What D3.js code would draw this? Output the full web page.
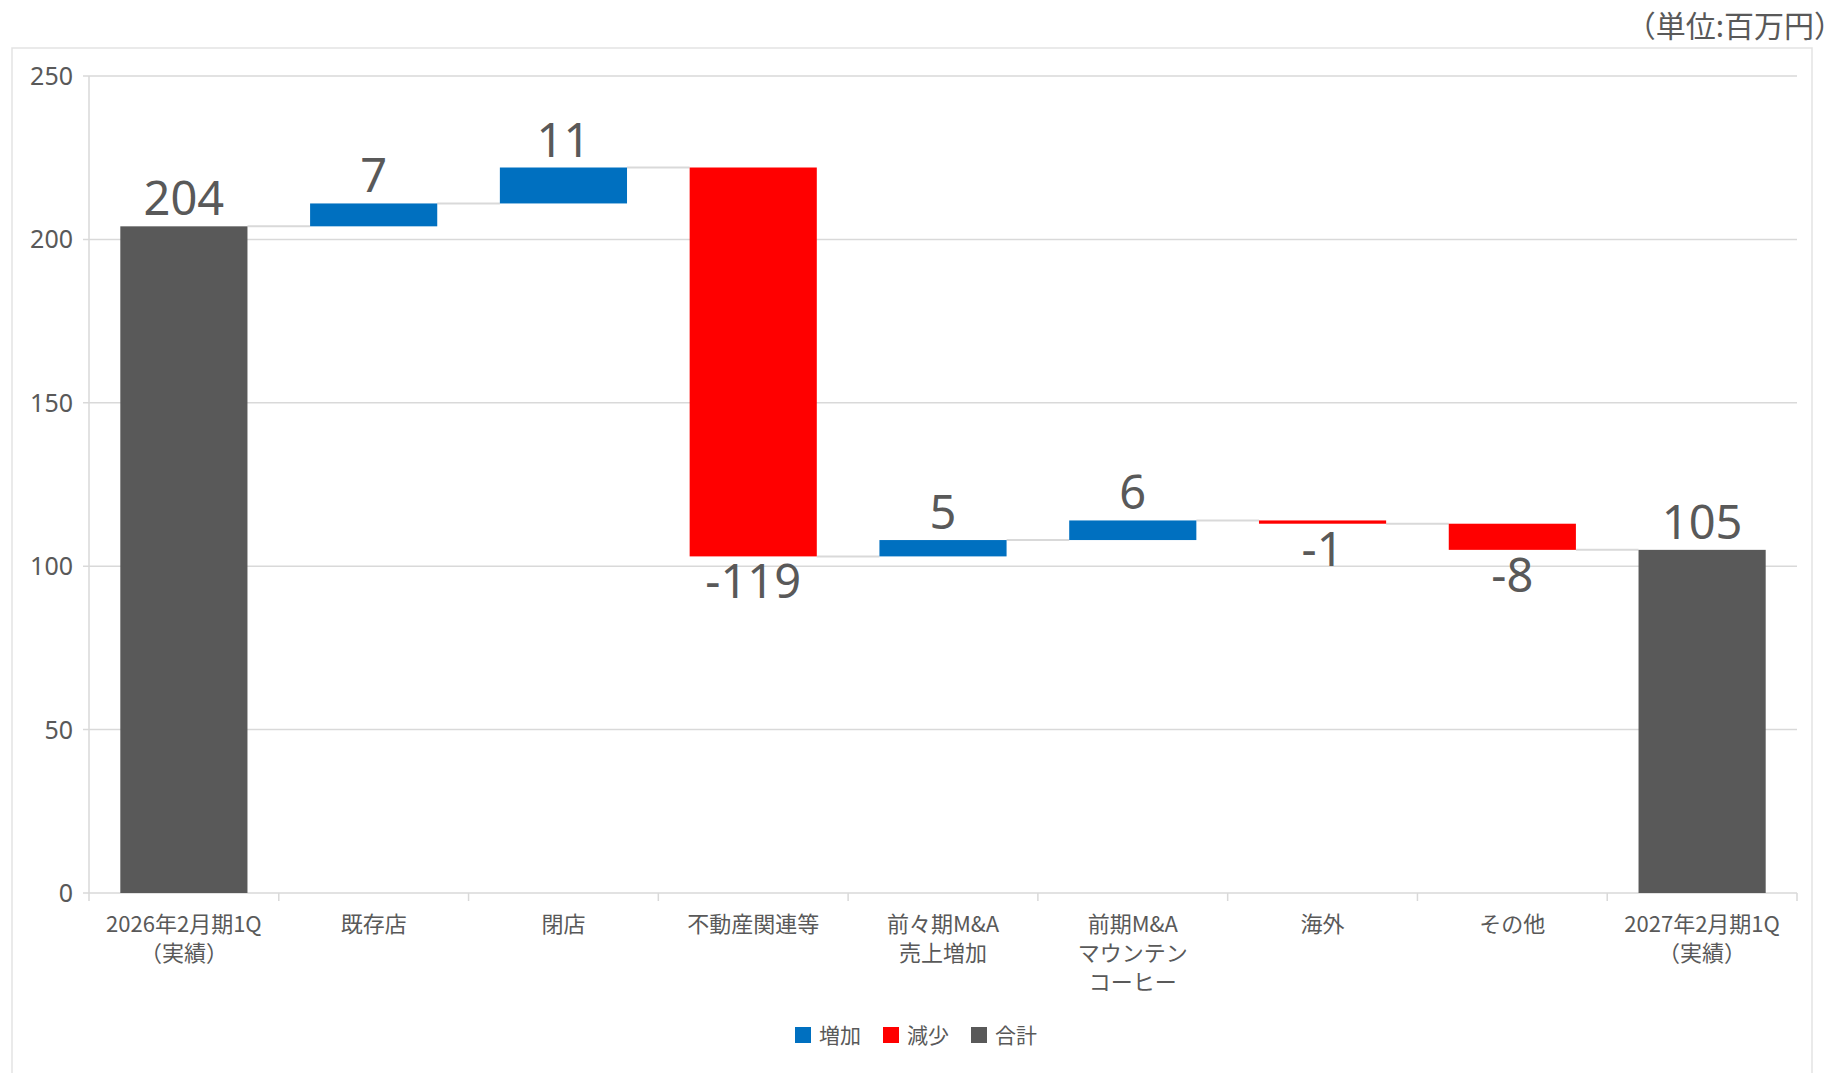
<!DOCTYPE html>
<html>
<head>
<meta charset="utf-8">
<script src="https://cdn.jsdelivr.net/npm/d3@7"></script>
<style>
	body { margin: 0; background: #fff; }
	svg text { font-family: "Noto Sans CJK JP", "Noto Sans", sans-serif; fill: #595959; }
	svg .num { font-family: "Noto Sans", "Open Sans", sans-serif; }
</style>
</head>
<body>
<svg id="chart" width="1845" height="1073"></svg>
<script>
// chart data
var categories = [
	["2026年2月期1Q", "（実績）"],
	["既存店"],
	["閉店"],
	["不動産関連等"],
	["前々期M&A", "売上増加"],
	["前期M&A", "マウンテン", "コーヒー"],
	["海外"],
	["その他"],
	["2027年2月期1Q", "（実績）"]
];
var values = [204, 7, 11, -119, 5, 6, -1, -8, 105];
var kinds = ["total", "delta", "delta", "delta", "delta", "delta", "delta", "delta", "total"];
var yTicks = [0, 50, 100, 150, 200, 250];
var legendLabels = ["増加", "減少", "合計"];
var unitLabel = "（単位:百万円）";

window.onload = _ => {
	var colors = { up: "#0070C0", down: "#FF0000", total: "#595959" },
		grid = "#d9d9d9",
		left = 89, right = 1797, top = 76, bottom = 893;

	var svg = d3.select("#chart");

	// running totals -> bar start / end
	var running = 0;
	var bars = values.map((v, i) => {
		var d = { i: i, value: v, kind: kinds[i] };
		if (kinds[i] == "total") {
			d.start = 0; d.end = v; running = v;
			d.color = colors.total;
		} else {
			d.start = running; d.end = running + v; running = d.end;
			d.color = v >= 0 ? colors.up : colors.down;
		}
		return d;
	});

	var x = d3.scaleBand()
		.domain(d3.range(categories.length))
		.range([left, right])
		.paddingInner(0.33)
		.paddingOuter(0.165);
	var step = x.step();

	var y = d3.scaleLinear().domain([0, 250]).range([bottom, top]);

	// outer frame
	svg.append("rect")
		.attr("x", 12).attr("y", 48)
		.attr("width", 1800).attr("height", 1040)
		.attr("fill", "none")
		.attr("stroke", "#e3e3e3")
		.attr("stroke-width", 1.5);

	// unit label
	svg.append("text")
		.attr("x", 1844).attr("y", 37)
		.attr("text-anchor", "end")
		.style("font-size", "30px")
		.text(unitLabel);

	// gridlines + y labels
	svg.selectAll(".grid")
		.data(yTicks)
		.enter()
		.append("line")
		.attr("x1", left - 6).attr("x2", right)
		.attr("y1", d => y(d)).attr("y2", d => y(d))
		.attr("stroke", grid)
		.attr("stroke-width", 1.5);

	svg.selectAll(".ylab")
		.data(yTicks)
		.enter()
		.append("text")
		.attr("class", "num")
		.attr("x", 73)
		.attr("y", d => y(d))
		.attr("dy", "0.36em")
		.attr("text-anchor", "end")
		.style("font-size", "25px")
		.text(d => d);

	// y axis line
	svg.append("line")
		.attr("x1", left).attr("x2", left)
		.attr("y1", top).attr("y2", bottom)
		.attr("stroke", grid)
		.attr("stroke-width", 1.5);

	// x axis ticks at category boundaries
	svg.selectAll(".xtick")
		.data(d3.range(categories.length + 1))
		.enter()
		.append("line")
		.attr("x1", d => left + d * step).attr("x2", d => left + d * step)
		.attr("y1", bottom).attr("y2", bottom + 8)
		.attr("stroke", grid)
		.attr("stroke-width", 1.5);

	// connectors
	svg.selectAll(".conn")
		.data(bars.slice(0, -1))
		.enter()
		.append("line")
		.attr("x1", d => x(d.i) + x.bandwidth())
		.attr("x2", d => x(d.i + 1))
		.attr("y1", d => y(d.end)).attr("y2", d => y(d.end))
		.attr("stroke", grid)
		.attr("stroke-width", 2);

	// bars
	svg.selectAll(".bar")
		.data(bars)
		.enter()
		.append("rect")
		.attr("x", d => x(d.i))
		.attr("width", x.bandwidth())
		.attr("y", d => y(Math.max(d.start, d.end)))
		.attr("height", d => Math.abs(y(d.start) - y(d.end)))
		.attr("fill", d => d.color);

	// value labels
	svg.selectAll(".val")
		.data(bars)
		.enter()
		.append("text")
		.attr("class", "num")
		.attr("x", d => x(d.i) + x.bandwidth() / 2)
		.attr("y", d => d.value >= 0 ? y(Math.max(d.start, d.end)) - 11 : y(Math.min(d.start, d.end)) + 42)
		.attr("text-anchor", "middle")
		.style("font-size", "47px")
		.text(d => d.value);

	// category labels
	var cat = svg.selectAll(".cat")
		.data(categories)
		.enter()
		.append("text")
		.attr("text-anchor", "middle")
		.style("font-size", "22px")
		.attr("transform", (d, i) => "translate(" + (x(i) + x.bandwidth() / 2) + ",932)");
	cat.selectAll("tspan")
		.data(d => d)
		.enter()
		.append("tspan")
		.attr("x", 0)
		.attr("y", (d, i) => i * 29)
		.text(d => d);

	// legend
	var legendColors = [colors.up, colors.down, colors.total];
	var lx = [795, 883, 971];
	var lg = svg.selectAll(".leg")
		.data(legendLabels)
		.enter()
		.append("g")
		.attr("transform", (d, i) => "translate(" + lx[i] + ",1035)");
	lg.append("rect")
		.attr("x", 0).attr("y", -8)
		.attr("width", 16).attr("height", 16)
		.attr("fill", (d, i) => legendColors[i]);
	lg.append("text")
		.attr("x", 24).attr("dy", "0.36em")
		.style("font-size", "21px")
		.text(d => d);
}
</script>
</body>
</html>
